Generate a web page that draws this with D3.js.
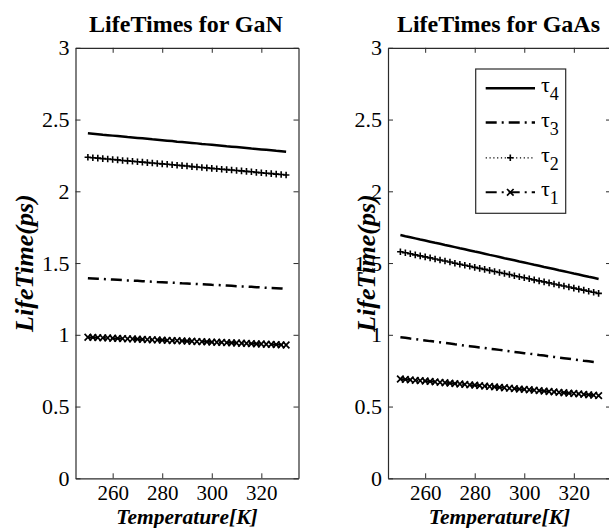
<!DOCTYPE html>
<html>
<head>
<meta charset="utf-8">
<script src="https://cdn.jsdelivr.net/npm/d3@7"></script>
<style>
html,body{margin:0;padding:0;background:#fff;}
svg{display:block;}
svg text{font-family:"Liberation Serif","Times New Roman",serif !important;fill:#000;}
</style>
</head>
<body>
<svg id="chart" width="609" height="528"></svg>
<script>
// ---------- data ----------
const temperatures = [250,252,254,256,258,260,262,264,266,268,270,272,274,276,278,280,282,284,286,288,290,
  292,294,296,298,300,302,304,306,308,310,312,314,316,318,320,322,324,326,328,330];

const ganTau4 = [2.404,2.401,2.398,2.394,2.391,2.388,2.385,2.382,2.378,2.375,2.372,2.369,2.366,2.362,2.359,2.356,2.353,2.350,2.346,2.343,2.340,
  2.337,2.334,2.330,2.327,2.324,2.321,2.318,2.314,2.311,2.308,2.305,2.302,2.298,2.295,2.292,2.289,2.286,2.282,2.279,2.276];
const ganTau3 = [1.394,1.392,1.390,1.389,1.387,1.385,1.383,1.381,1.379,1.378,1.376,1.374,1.372,1.370,1.368,1.367,1.365,1.363,1.361,1.359,1.358,
  1.356,1.354,1.352,1.350,1.348,1.347,1.345,1.343,1.341,1.339,1.337,1.336,1.334,1.332,1.330,1.328,1.326,1.325,1.323,1.321];
const ganTau2 = [2.237,2.234,2.231,2.228,2.225,2.222,2.219,2.215,2.212,2.209,2.206,2.203,2.200,2.197,2.194,2.191,2.188,2.185,2.182,2.179,2.176,
  2.172,2.169,2.166,2.163,2.160,2.157,2.154,2.151,2.148,2.145,2.142,2.139,2.136,2.132,2.129,2.126,2.123,2.120,2.117,2.114];
const ganTau1 = [0.983,0.982,0.980,0.979,0.978,0.976,0.975,0.974,0.972,0.971,0.970,0.968,0.967,0.965,0.964,0.963,0.961,0.960,0.959,0.957,0.956,
  0.955,0.953,0.952,0.951,0.949,0.948,0.947,0.945,0.944,0.943,0.941,0.940,0.938,0.937,0.936,0.934,0.933,0.932,0.930,0.929];

const gaasTau4 = [1.695,1.687,1.680,1.672,1.664,1.657,1.649,1.641,1.634,1.626,1.619,1.611,1.603,1.596,1.588,1.580,1.573,1.565,1.557,1.550,1.542,
  1.534,1.527,1.519,1.511,1.504,1.496,1.488,1.481,1.473,1.466,1.458,1.450,1.443,1.435,1.427,1.420,1.412,1.404,1.397,1.389];
const gaasTau3 = [0.983,0.979,0.974,0.970,0.965,0.961,0.956,0.952,0.948,0.943,0.939,0.934,0.930,0.925,0.921,0.917,0.912,0.908,0.903,0.899,0.895,
  0.890,0.886,0.881,0.877,0.872,0.868,0.864,0.859,0.855,0.850,0.846,0.841,0.837,0.833,0.828,0.824,0.819,0.815,0.810,0.806];
const gaasTau2 = [1.579,1.572,1.565,1.557,1.550,1.543,1.536,1.528,1.521,1.514,1.507,1.499,1.492,1.485,1.478,1.470,1.463,1.456,1.449,1.441,1.434,
  1.427,1.420,1.412,1.405,1.398,1.391,1.383,1.376,1.369,1.362,1.354,1.347,1.340,1.333,1.325,1.318,1.311,1.304,1.296,1.289];
const gaasTau1 = [0.692,0.689,0.686,0.683,0.680,0.678,0.675,0.672,0.669,0.666,0.663,0.660,0.657,0.654,0.651,0.649,0.646,0.643,0.640,0.637,0.634,
  0.631,0.628,0.625,0.622,0.620,0.617,0.614,0.611,0.608,0.605,0.602,0.599,0.596,0.593,0.591,0.588,0.585,0.582,0.579,0.576];

const xTicks = [260,280,300,320];
const yTicks = [0,0.5,1,1.5,2,2.5,3];
const xDomain = [245,335];
const yDomain = [0,3];
const panelTitles = ["LifeTimes for GaN","LifeTimes for GaAs"];
const xLabel = "Temperature[K]";
const yLabel = "LifeTime(ps)";
const legendNames = ["4","3","2","1"]; // subscripts of τ

// ---------- layout ----------
const svg = d3.select("#chart");
const plotTop = 47.8, plotBottom = 478.3;
const panels = [
  {x0:75.5, x1:298.5, ylabX:24, title:panelTitles[0], series:[ganTau4,ganTau3,ganTau2,ganTau1]},
  {x0:388,  x1:611,   ylabX:366, title:panelTitles[1], series:[gaasTau4,gaasTau3,gaasTau2,gaasTau1]}
];
const styles = [
  {dash:null, width:2.5, marker:null},
  {dash:"11,5,2,5", width:2.5, marker:null},
  {dash:"1.2,2.6", width:1.3, marker:"plus"},
  {dash:"11,5,2,5", width:2, marker:"x"}
];
const axisColor = "#2b2b2b";
const serif = "'Liberation Serif','Times New Roman',serif";

function drawMarker(g, type, cx, cy, s){
  if(type==="plus"){
    g.append("path").attr("d",`M${cx-s},${cy}H${cx+s}M${cx},${cy-s}V${cy+s}`)
      .attr("stroke","#000").attr("stroke-width",1.6).attr("fill","none");
  } else if(type==="x"){
    g.append("path").attr("d",`M${cx-s},${cy-s}L${cx+s},${cy+s}M${cx-s},${cy+s}L${cx+s},${cy-s}`)
      .attr("stroke","#000").attr("stroke-width",1.7).attr("fill","none");
  }
}

panels.forEach((p,pi)=>{
  const x = d3.scaleLinear().domain(xDomain).range([p.x0,p.x1]);
  const y = d3.scaleLinear().domain(yDomain).range([plotBottom,plotTop]);
  const g = svg.append("g");

  const ax = (s)=>{s.attr("font-family",null);
    s.selectAll("path.domain").attr("stroke",axisColor);
    s.selectAll(".tick line").attr("stroke",axisColor);};
  g.append("g").attr("transform",`translate(0,${plotBottom})`)
    .call(d3.axisBottom(x).tickValues(xTicks).tickSizeInner(-5).tickSizeOuter(0).tickPadding(7))
    .call(ax)
    .call(s=>s.selectAll("text").style("font-family",serif).style("font-size","21px").attr("fill","#000"));
  g.append("g").attr("transform",`translate(0,${plotTop})`)
    .call(d3.axisTop(x).tickValues(xTicks).tickSizeInner(-5).tickSizeOuter(0).tickFormat(""))
    .call(ax);
  g.append("g").attr("transform",`translate(${p.x0},0)`)
    .call(d3.axisLeft(y).tickValues(yTicks).tickSizeInner(-5).tickSizeOuter(0).tickPadding(6).tickFormat(d3.format("")))
    .call(ax)
    .call(s=>s.selectAll("text").style("font-family",serif).style("font-size","22px").attr("fill","#000"));
  g.append("g").attr("transform",`translate(${p.x1},0)`)
    .call(d3.axisRight(y).tickValues(yTicks).tickSizeInner(-5).tickSizeOuter(0).tickFormat(""))
    .call(ax);
  g.selectAll(".domain").attr("stroke-width",1.2);

  p.series.forEach((vals,si)=>{
    const st = styles[si];
    const pts = temperatures.map((t,i)=>[t,vals[i]]);
    const line = d3.line().x(d=>x(d[0])).y(d=>y(d[1]));
    const path = g.append("path").datum(pts).attr("d",line)
      .attr("fill","none").attr("stroke","#000").attr("stroke-width",st.width);
    if(st.dash) path.attr("stroke-dasharray",st.dash);
    if(st.marker){
      const mg = g.append("g");
      pts.forEach(d=>drawMarker(mg, st.marker, x(d[0]), y(d[1]), 3.3));
    }
  });

  g.append("text").attr("x",(p.x0+p.x1)/2 - 1).attr("y",32)
    .attr("text-anchor","middle").style("font-weight","bold").style("font-size","24px")
    .text(p.title);
  g.append("text").attr("x",(p.x0+p.x1)/2).attr("y",524)
    .attr("text-anchor","middle").style("font-weight","bold").style("font-style","italic").style("font-size","21.5px")
    .text(xLabel);
  g.append("text").attr("transform",`translate(${p.ylabX},${(plotTop+plotBottom)/2}) rotate(-90)`)
    .attr("text-anchor","middle").attr("dy","0.35em").style("font-weight","bold").style("font-style","italic").style("font-size","26px")
    .text(yLabel);
});

// legend (in GaAs panel)
const lg = svg.append("g");
lg.append("rect").attr("x",475.7).attr("y",69).attr("width",90).attr("height",144.3)
  .attr("fill","#fff").attr("stroke",axisColor).attr("stroke-width",1.2);
const legendY = [88.3,122.5,157.8,192.3];
legendNames.forEach((n,i)=>{
  const st = styles[i];
  const ly = legendY[i];
  const l = lg.append("line").attr("x1",485.7).attr("x2",535).attr("y1",ly).attr("y2",ly)
    .attr("stroke","#000").attr("stroke-width",st.width);
  if(st.dash) l.attr("stroke-dasharray",st.dash);
  if(st.marker) drawMarker(lg, st.marker, 510.3, ly, 3.3);
  const t = lg.append("text").attr("x",541).attr("y",ly+4).style("font-size","22px");
  t.append("tspan").text("τ");
  t.append("tspan").style("font-size","18px").attr("dy",8).text(n);
});
</script>
</body>
</html>
